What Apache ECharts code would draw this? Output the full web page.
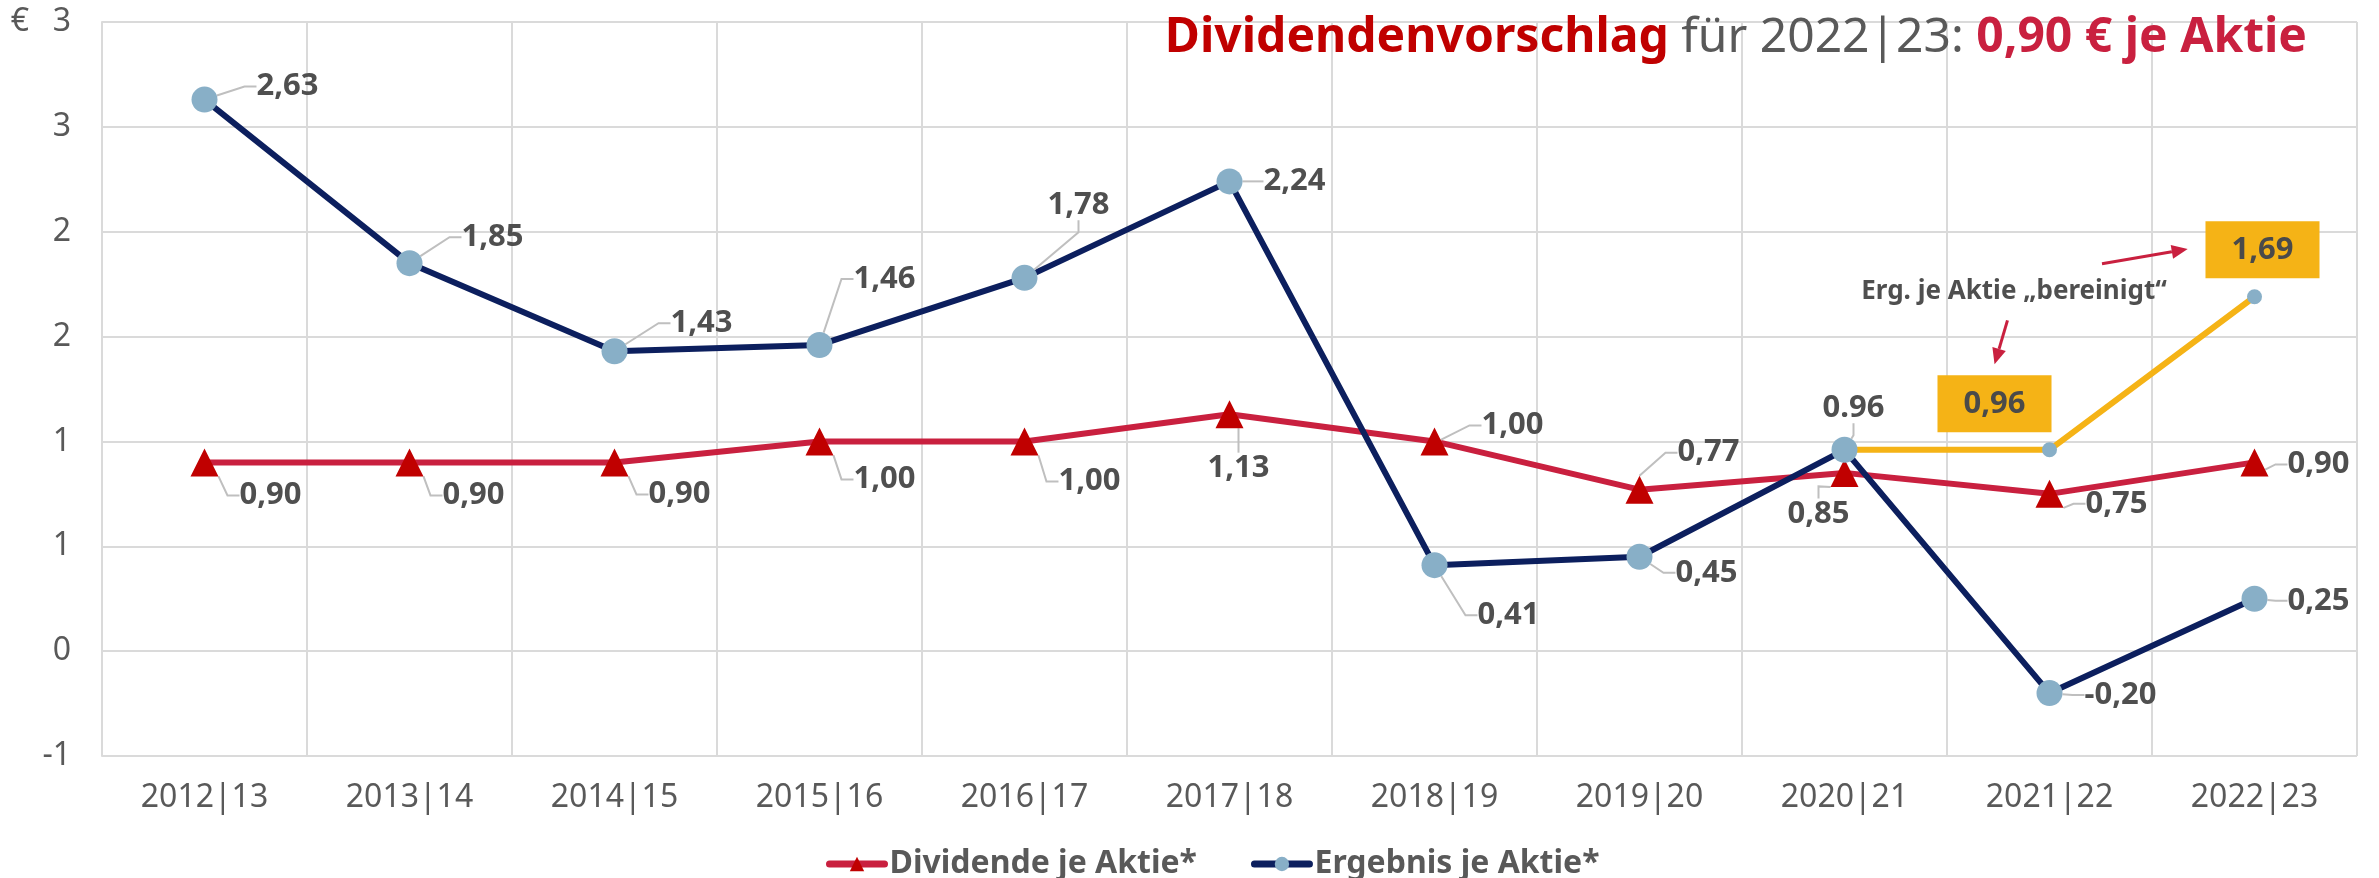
<!DOCTYPE html>
<html><head><meta charset="utf-8">
<script src="https://cdn.jsdelivr.net/npm/echarts@6/dist/echarts.min.js"></script>
<style>html,body{margin:0;padding:0;background:#fff}#c{width:2379px;height:878px}</style>
</head><body><div id="c"></div>
<script>
// ---------- data ----------
const categories = ['2012|13','2013|14','2014|15','2015|16','2016|17','2017|18','2018|19','2019|20','2020|21','2021|22','2022|23'];
const dividende = [0.90, 0.90, 0.90, 1.00, 1.00, 1.13, 1.00, 0.77, 0.85, 0.75, 0.90];
const ergebnis = [2.63, 1.85, 1.43, 1.46, 1.78, 2.24, 0.41, 0.45, 0.96, -0.20, 0.25];
const ergebnisBereinigt = [null, null, null, null, null, null, null, null, 0.96, 0.96, 1.69];
const yTickLabels = ['-1', '0', '1', '1', '2', '2', '3', '3'];
const legendNames = ['Dividende je Aktie*', 'Ergebnis je Aktie*'];
const titleParts = ['Dividendenvorschlag', ' f\u00fcr 2022|23: ', '0,90 \u20ac je Aktie'];
const annotationText = 'Erg. je Aktie \u201ebereinigt\u201c';
const ergebnisDotLabelIndex = [8];

// ---------- layout / style ----------
const FONT = '"Noto Sans", sans-serif';
const yMin = -0.5, yMax = 3, yInterval = 0.5;
const divLabelOffsets = [[66,33],[64,33],[65,32],[65,38],[65,40],[9,54],[78,-16],[69,-37],[-26,41],[67,10],[64,2]];
const ergLabelOffsets = [[83,-13],[83,-26],[87,-28],[65,-66],[54,-73],[65,0],[74,50],[67,16],[9,-42],[71,2],[64,2]];
const berLabelOffsets = {9: [-55, -46], 10: [8, -47]};
const annot = {
  text: [8.827, 1.716],
  arrows: [ [[9.256, 1.847], [9.674, 1.917]], [[8.795, 1.577], [8.732, 1.368]] ]
};

function fmt(v, sep) { return v.toFixed(2).replace('.', sep); }

const labelBase = {
  show: true, position: 'inside', fontFamily: FONT, fontWeight: 'bold',
  fontSize: 31, color: '#4F4F4F'
};
const labelLineBase = { show: true, length2: 12, lineStyle: { color: '#BFBFBF', width: 2 } };

const chart = echarts.init(document.getElementById('c'), null, { renderer: 'canvas' });
chart.setOption({
  animation: false,
  backgroundColor: '#ffffff',
  title: {
    right: 72, top: 14, padding: 0,
    text: '{a|' + titleParts[0] + '}{b|' + titleParts[1] + '}{c|' + titleParts[2] + '}',
    textStyle: {
      rich: {
        a: { fontFamily: FONT, fontSize: 48, fontWeight: 'bold', color: '#C00000' },
        b: { fontFamily: FONT, fontSize: 48, fontWeight: 'normal', color: '#595959' },
        c: { fontFamily: FONT, fontSize: 48, fontWeight: 'bold', color: '#C9203F' }
      }
    }
  },
  legend: {
    data: legendNames, left: 821, top: 843, itemWidth: 55, itemHeight: 18, itemGap: 54,
    lineStyle: { width: 7, cap: 'round' },
    textStyle: { fontFamily: FONT, fontSize: 32, fontWeight: 'bold', color: '#595959' }
  },
  grid: { left: 102, right: 22, top: 22, bottom: 122, containLabel: false },
  xAxis: {
    type: 'category', data: categories, boundaryGap: true,
    axisLine: { show: true, lineStyle: { color: '#DADADA', width: 2 } },
    axisTick: { show: false },
    splitLine: { show: true, interval: 0, lineStyle: { color: '#DADADA', width: 2 } },
    axisLabel: { interval: 0, margin: 26, fontFamily: FONT, fontSize: 32, color: '#595959' }
  },
  yAxis: {
    type: 'value', min: yMin, max: yMax, interval: yInterval,
    axisLine: { show: true, lineStyle: { color: '#DADADA', width: 2 } },
    axisTick: { show: false },
    splitLine: { show: true, lineStyle: { color: '#DADADA', width: 2 } },
    axisLabel: {
      margin: 31, fontFamily: FONT, fontSize: 32, color: '#595959',
      formatter: function (v) {
        const i = Math.round((v - yMin) / yInterval);
        const t = yTickLabels[i];
        if (v === yMax) return '{e|\u20ac}{v|' + t + '}';
        return t;
      },
      rich: {
        e: { fontFamily: FONT, fontSize: 32, color: '#595959', width: 42, align: 'left' },
        v: { fontFamily: FONT, fontSize: 32, color: '#595959' }
      }
    }
  },
  series: [
    {
      name: 'Ergebnis bereinigt', type: 'line',
      data: ergebnisBereinigt.map(function (v, i) {
        return v === null ? null : { value: v, label: { show: !!berLabelOffsets[i] } };
      }),
      symbol: 'circle', symbolSize: 15,
      itemStyle: { color: '#88AFC7' },
      lineStyle: { color: '#F5B316', width: 6 },
      label: Object.assign({}, labelBase, {
        backgroundColor: '#F5B316', padding: [13, 26, 13, 26], color: '#4A4A4A',
        formatter: function (p) { return fmt(p.value, ','); }
      }),
      labelLayout: function (p) {
        const o = berLabelOffsets[p.dataIndex] || [0, 0];
        return { dx: o[0], dy: o[1] };
      },
      z: 1
    },
    {
      name: legendNames[0], type: 'line', data: dividende,
      symbol: 'triangle', symbolSize: 28,
      itemStyle: { color: '#C00000' },
      lineStyle: { color: '#C9203F', width: 6 },
      label: Object.assign({}, labelBase, {
        formatter: function (p) { return fmt(p.value, ','); }
      }),
      labelLine: labelLineBase,
      labelLayout: function (p) {
        const o = divLabelOffsets[p.dataIndex];
        return { dx: o[0], dy: o[1] };
      },
      z: 2
    },
    {
      name: legendNames[1], type: 'line', data: ergebnis,
      symbol: 'circle', symbolSize: 26,
      itemStyle: { color: '#88AFC7' },
      lineStyle: { color: '#0C1F5E', width: 6 },
      label: Object.assign({}, labelBase, {
        formatter: function (p) {
          return fmt(p.value, ergebnisDotLabelIndex.indexOf(p.dataIndex) >= 0 ? '.' : ',');
        }
      }),
      labelLine: labelLineBase,
      labelLayout: function (p) {
        const o = ergLabelOffsets[p.dataIndex];
        return { dx: o[0], dy: o[1] };
      },
      z: 3
    }
  ]
});

// ---------- annotations anchored in data space ----------
function toPx(idx, val) {
  const i0 = Math.min(Math.floor(idx), categories.length - 2);
  const p0 = chart.convertToPixel({ xAxisIndex: 0, yAxisIndex: 0 }, [i0, val]);
  const p1 = chart.convertToPixel({ xAxisIndex: 0, yAxisIndex: 0 }, [i0 + 1, val]);
  return [p0[0] + (idx - i0) * (p1[0] - p0[0]), p0[1]];
}
const graphics = [];
const tp = toPx(annot.text[0], annot.text[1]);
graphics.push({
  type: 'text', z: 50,
  style: { text: annotationText, x: tp[0], y: tp[1], align: 'center', verticalAlign: 'middle',
           font: 'bold 26px ' + FONT, fill: '#4F4F4F' }
});
annot.arrows.forEach(function (a) {
  const s = toPx(a[0][0], a[0][1]);
  const t = toPx(a[1][0], a[1][1]);
  const dx = t[0] - s[0], dy = t[1] - s[1];
  const len = Math.sqrt(dx * dx + dy * dy);
  const ux = dx / len, uy = dy / len;
  const hl = 16, hw = 7;
  const bx = t[0] - ux * hl, by = t[1] - uy * hl;
  graphics.push({
    type: 'line', z: 50,
    shape: { x1: s[0], y1: s[1], x2: bx, y2: by },
    style: { stroke: '#C9203F', lineWidth: 3 }
  });
  graphics.push({
    type: 'polygon', z: 50,
    shape: { points: [[t[0], t[1]], [bx - uy * hw, by + ux * hw], [bx + uy * hw, by - ux * hw]] },
    style: { fill: '#C9203F' }
  });
});
chart.setOption({ graphic: graphics });
</script>
</body></html>
